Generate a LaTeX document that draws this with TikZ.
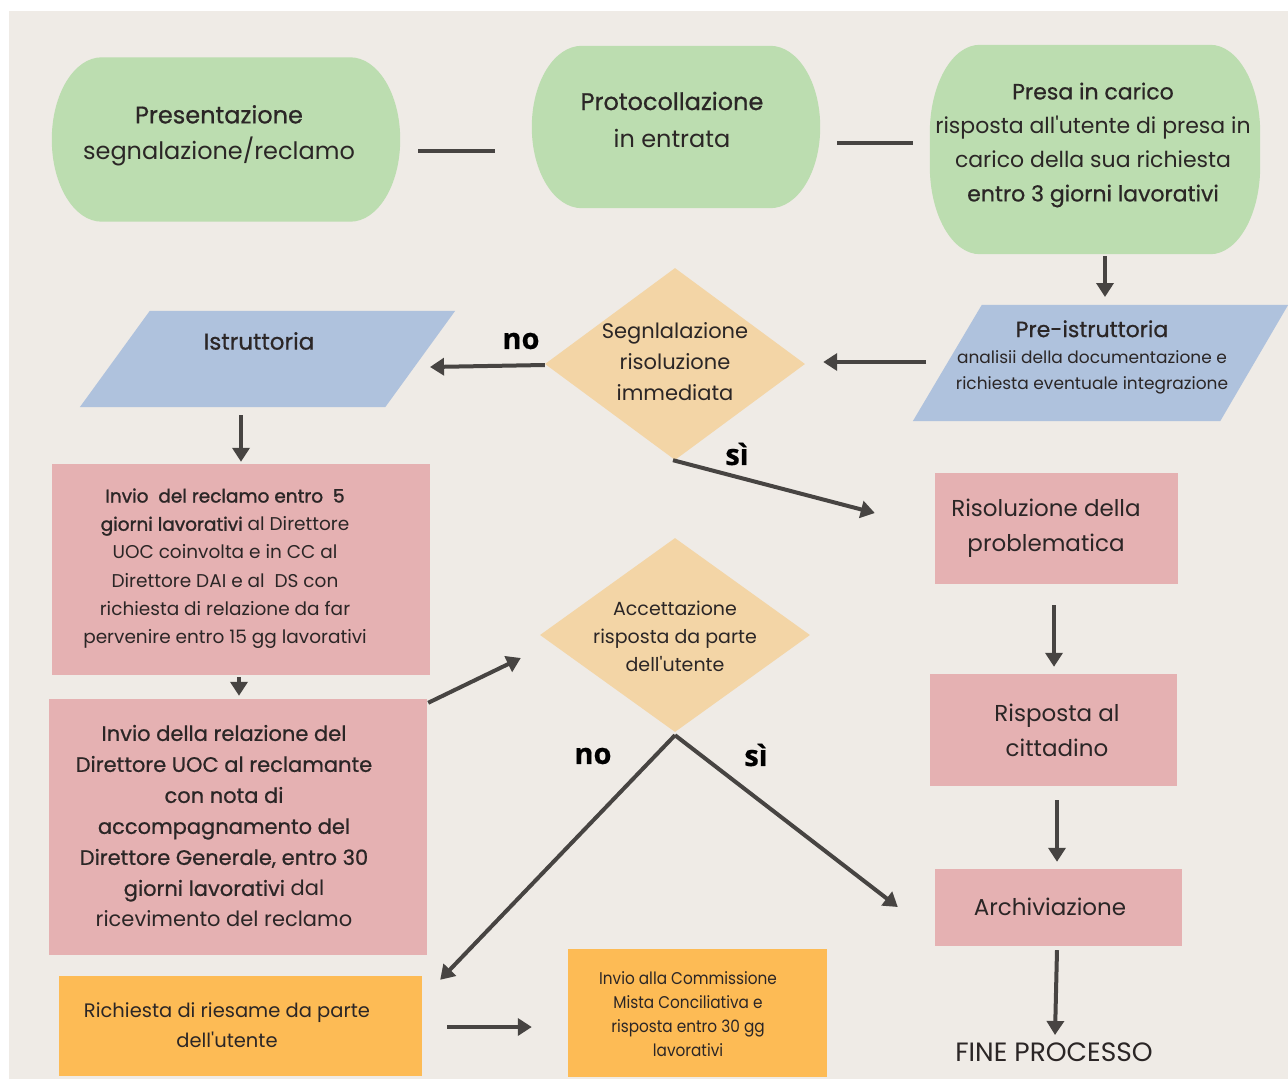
\documentclass[tikz,border=0pt]{standalone}
\usepackage{fontspec}
\setmainfont{Poppins}
\newfontfamily\med{Poppins}[FakeBold=0.7]
\newfontfamily\semi{Poppins}[FakeBold=1.4]
\newfontfamily\cond{Poppins}[FakeStretch=0.9]
\newfontfamily\lab{Open Sans}[FakeBold=0.6]
\usetikzlibrary{shapes.geometric,arrows.meta,calc}
\definecolor{bgc}{HTML}{EFEBE6}
\definecolor{greenc}{HTML}{BCDDB0}
\definecolor{bluec}{HTML}{AFC2DD}
\definecolor{pinkc}{HTML}{E5B1B2}
\definecolor{diac}{HTML}{F3D5A6}
\definecolor{orangec}{HTML}{FDBB55}
\definecolor{arrc}{HTML}{474442}
\definecolor{txtc}{HTML}{2B2626}
\newcommand\greenstad[3]{%
  \fill[greenc] ($(#1.north west)+(#2,0)$) -- ($(#1.north east)+(-#2,0)$)
    arc[start angle=90,end angle=0,x radius=#2pt,y radius=#3pt]
    -- ($(#1.south east)+(0,-#3)$)
    arc[start angle=0,end angle=-90,x radius=#2pt,y radius=#3pt]
    -- ($(#1.south west)+(#2,0)$)
    arc[start angle=-90,end angle=-180,x radius=#2pt,y radius=#3pt]
    -- ($(#1.north west)+(0,#3)$)
    arc[start angle=180,end angle=90,x radius=#2pt,y radius=#3pt] -- cycle;}
\newcommand\ap{\textquotesingle}
\begin{document}
\begin{tikzpicture}[x=1pt,y=-1pt,
  box/.style={inner sep=0pt, draw=none},
  term/.style={box},
  parabox/.style={box},
  proc/.style={box, fill=pinkc},
  dec/.style={box, fill=diac, diamond},
  req/.style={box, fill=orangec},
  txt/.style={align=center, text=txtc, inner sep=0pt},
  arr/.style={draw=arrc, line width=4pt, -{Triangle[length=14pt,width=17pt]}},
  ln/.style={draw=arrc, line width=4pt},
  lbl/.style={font=\lab\bfseries\fontsize{29}{30}\selectfont, text=black, inner sep=0pt}]
\useasboundingbox (0,0) rectangle (1288,1079);
\fill[white] (0,0) rectangle (1288,1079);
\fill[bgc] (9,11) rectangle (1288,1079);

% shapes
\node[term, minimum width=348pt, minimum height=164pt] (pres) at (226,139.5) {};
\greenstad{pres}{50}{82}
\node[term, minimum width=288pt, minimum height=162pt] (prot) at (676,127) {};
\greenstad{prot}{50}{81}
\node[term, minimum width=330pt, minimum height=209pt] (presa) at (1095,149.5) {};
\greenstad{presa}{50}{88}
\node[parabox, minimum width=375pt, minimum height=116pt] (pre) at (1100.5,363) {};
\fill[bluec] (pre.south west) -- ($(pre.south east)+(-68,0)$) -- (pre.north east) -- ($(pre.north west)+(69,0)$) -- cycle;
\node[dec, minimum width=260pt, minimum height=192pt] (d1) at (675,364) {};
\node[parabox, minimum width=375pt, minimum height=96pt] (istr) at (267.5,359) {};
\fill[bluec] (istr.south west) -- ($(istr.south east)+(-70,0)$) -- (istr.north east) -- ($(istr.north west)+(70,0)$) -- cycle;
\node[proc, minimum width=378pt, minimum height=211pt] (p1) at (241,569.5) {};
\node[proc, minimum width=378pt, minimum height=256pt] (p2) at (238,827) {};
\node[dec, minimum width=270pt, minimum height=194pt] (d2) at (675,635) {};
\node[proc, minimum width=243pt, minimum height=111pt] (ris) at (1056.5,528.5) {};
\node[proc, minimum width=247pt, minimum height=112pt] (risp) at (1053.5,730) {};
\node[proc, minimum width=247pt, minimum height=77pt] (arch) at (1058.5,907.5) {};
\node[req, minimum width=363pt, minimum height=100pt] (o1) at (240.5,1026) {};
\node[req, minimum width=259pt, minimum height=128pt] (o2) at (697.5,1013) {};

% texts
\node[txt, font=\fontsize{24}{36}\selectfont] (presT) at (219,135.5) {{\med Presentazione}\\segnalazione/reclamo};
\node[txt, font=\fontsize{24}{37}\selectfont] (protT) at (672,119.5) {{\med Protocollazione}\\in entrata};
\node[txt, font=\fontsize{22}{34}\selectfont] (presaT) at (1093,145) {{\med Presa in carico}\\risposta all\ap utente di presa in\\carico della sua richiesta\\{\med entro 3 giorni lavorativi}};
\node[txt, font=\fontsize{17}{26}\selectfont] (preT) at (1092,357) {{\med\fontsize{22}{29}\selectfont Pre-istruttoria}\\analisii della documentazione e\\richiesta eventuale integrazione};
\node[txt, font=\fontsize{21}{31}\selectfont] (d1T) at (675,362) {Segnlalazione\\risoluzione\\immediata};
\node[txt, font=\fontsize{23}{30}\selectfont] (istrT) at (259,341) {\med Istruttoria};
\node[txt, font=\fontsize{18.5}{28.2}\selectfont] (p1T) at (225,568.5) {{\semi Invio\ \ del reclamo entro\ \ 5}\\{\semi giorni lavorativi} al Direttore\\UOC coinvolta e in CC al\\Direttore DAI e al\ \ DS con\\richiesta di relazione da far\\pervenire entro 15 gg lavorativi};
\node[txt, font=\fontsize{21}{31}\selectfont] (p2T) at (224,826) {{\med Invio della relazione del}\\{\med Direttore UOC al reclamante}\\{\med con nota di}\\{\med accompagnamento del}\\{\med Direttore Generale, entro 30}\\{\med giorni lavorativi} dal\\ricevimento del reclamo};
\node[txt, font=\fontsize{19}{28}\selectfont] (d2T) at (675,636) {Accettazione\\risposta da parte\\dell\ap utente};
\node[txt, font=\fontsize{23}{35}\selectfont] (risT) at (1046,528.5) {Risoluzione della\\problematica};
\node[txt, font=\fontsize{23}{35}\selectfont] (rispT) at (1057,730.5) {Risposta al\\cittadino};
\node[txt, font=\fontsize{23}{30}\selectfont] (archT) at (1050,907) {Archiviazione};
\node[txt, font=\fontsize{19.5}{30}\selectfont] (o1T) at (227,1025) {Richiesta di riesame da parte\\dell\ap utente};
\node[txt, font=\cond\fontsize{17}{24}\selectfont] (o2T) at (688,1014) {Invio alla Commissione\\Mista Conciliativa e\\risposta entro 30 gg\\lavorativi};
\node[txt, font=\fontsize{26.5}{30}\selectfont] (fine) at (1054,1052) {FINE PROCESSO};

% labels
\node[lbl] (no1) at (521,341) {no};
\node[lbl] (si1) at (737,454) {sì};
\node[lbl] (no2) at (593,756) {no};
\node[lbl] (si2) at (756,755) {sì};

% connectors
\draw[ln] ($(pres.east)+(18,11.5)$) -- ($(prot.west)+(-37,24)$);
\draw[ln] ($(prot.east)+(17,16)$) -- ($(presa.west)+(-17,-6.5)$);
\draw[arr] ($(presa.south)+(10,2)$) -- ($(pre.center)+(4.5,-66)$);
\draw[arr] ($(pre.center)+(-174.5,-1)$) -- ($(d1.east)+(18,-2)$);
\draw[arr] ($(d1.west)+(0,1)$) -- ($(istr.center)+(162.5,8)$);
\draw[arr] ($(d1.south)+(-2,0)$) -- ($(ris.west)+(-60,-15.5)$);
\draw[arr] ($(istr.center)+(-26.5,56)$) -- ($(p1.north)+(0,-2)$);
\draw[arr] ($(p1.south)+(-2,2)$) -- ($(p2.north)+(1,-3)$);
\draw[arr] ($(p2.north east)+(1,4)$) -- ($(d2.west)+(-19,23)$);
\draw[arr] ($(d2.south)+(0,3)$) -- ($(o1.north east)+(18,4)$);
\draw[arr] ($(d2.south)+(0,3)$) -- ($(arch.west)+(-37,-0.5)$);
\draw[arr] ($(ris.south)+(-2.5,21)$) -- ($(risp.north)+(0.5,-7)$);
\draw[arr] ($(risp.south)+(3.5,14)$) -- ($(arch.north)+(-1.5,-7)$);
\draw[arr] ($(arch.south)+(-1.5,4)$) -- ($(fine.center)+(1,-17)$);
\draw[arr] ($(o1.east)+(25,1)$) -- ($(o2.west)+(-36,14)$);
\end{tikzpicture}
\end{document}
